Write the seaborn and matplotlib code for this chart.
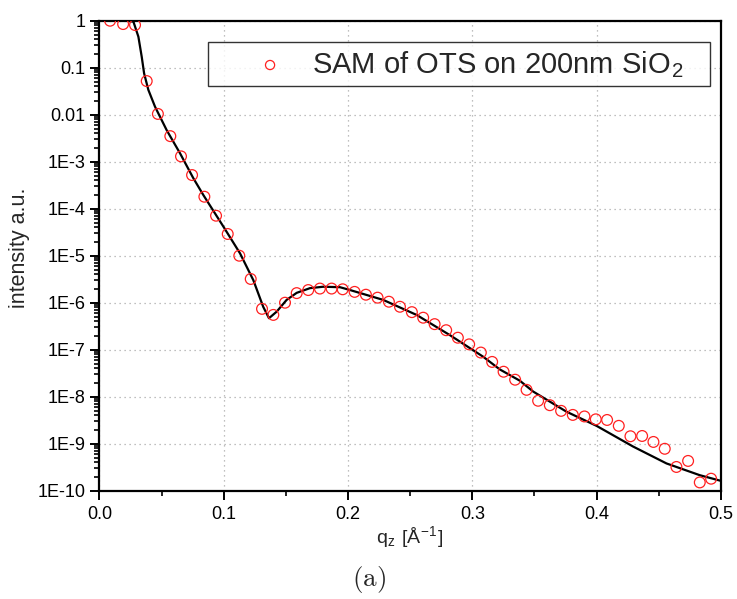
import matplotlib
matplotlib.use("Agg")
import matplotlib.pyplot as plt
import seaborn as sns
import numpy as np
import pandas as pd
from matplotlib.ticker import LogLocator, NullFormatter, MultipleLocator

# ---- data ----
q_data = [0.0085, 0.019, 0.0286, 0.038, 0.047, 0.057, 0.0656, 0.0745, 0.0844, 0.0938,
          0.1032, 0.1125, 0.1217, 0.1308, 0.1399, 0.1493, 0.1587, 0.168, 0.1774, 0.1868,
          0.1957, 0.2053, 0.2144, 0.2238, 0.2329, 0.2418, 0.2514, 0.2605, 0.2697, 0.279,
          0.2884, 0.2975, 0.3069, 0.316, 0.3252, 0.3345, 0.3437, 0.353, 0.3624, 0.3715,
          0.3809, 0.3903, 0.3994, 0.4085, 0.4179, 0.4273, 0.4367, 0.4458, 0.4549, 0.4643,
          0.4737, 0.4831, 0.4922]
i_data = [1.0, 0.85, 0.81, 0.052, 0.0104, 3.5e-3, 1.3e-3, 5.2e-4, 1.8e-4, 7.1e-5,
          2.9e-5, 1.0e-5, 3.2e-6, 7.4e-7, 5.5e-7, 1.0e-6, 1.6e-6, 1.86e-6, 2.0e-6, 2.0e-6,
          1.93e-6, 1.7e-6, 1.48e-6, 1.28e-6, 1.05e-6, 8.2e-7, 6.3e-7, 4.8e-7, 3.5e-7, 2.6e-7,
          1.8e-7, 1.3e-7, 8.7e-8, 5.5e-8, 3.4e-8, 2.3e-8, 1.4e-8, 8.2e-9, 6.6e-9, 5.0e-9,
          4.1e-9, 3.8e-9, 3.3e-9, 3.2e-9, 2.4e-9, 1.44e-9, 1.46e-9, 1.09e-9, 7.8e-10, 3.2e-10,
          4.3e-10, 1.5e-10, 1.8e-10]

q_fit = [0.0, 0.0166, 0.023, 0.0273, 0.0313, 0.034, 0.0359, 0.0393, 0.0447, 0.0541,
         0.0648, 0.0755, 0.0836, 0.0997, 0.1131, 0.1238, 0.1318, 0.1364, 0.1426, 0.1506,
         0.1587, 0.1694, 0.1801, 0.1935, 0.2016, 0.2283, 0.2552, 0.282, 0.3088, 0.3222,
         0.3383, 0.349, 0.3759, 0.40, 0.4294, 0.4563, 0.4831, 0.50]
logi_fit = [0.0, 0.0, -0.005, -0.02, -0.34, -0.77, -1.12, -1.47, -1.83, -2.33,
            -2.82, -3.35, -3.71, -4.38, -4.95, -5.52, -6.09, -6.33, -6.19, -5.94,
            -5.79, -5.69, -5.66, -5.67, -5.73, -5.94, -6.26, -6.69, -7.15, -7.42,
            -7.66, -7.89, -8.32, -8.62, -9.06, -9.42, -9.67, -9.79]
i_fit = [10 ** v for v in logi_fit]

y_ticks = [1, 0.1, 0.01, 1e-3, 1e-4, 1e-5, 1e-6, 1e-7, 1e-8, 1e-9, 1e-10]
y_ticklabels = ["1", "0.1", "0.01", "1E-3", "1E-4", "1E-5", "1E-6", "1E-7", "1E-8", "1E-9", "1E-10"]
x_ticks = [0.0, 0.1, 0.2, 0.3, 0.4, 0.5]
x_ticklabels = ["0.0", "0.1", "0.2", "0.3", "0.4", "0.5"]

series_label = r"SAM of OTS on 200nm SiO$_\mathregular{2}$"

df_data = pd.DataFrame({"q": q_data, "I": i_data})
df_fit = pd.DataFrame({"q": q_fit, "I": i_fit})

sns.set_style("white")
plt.rcParams["font.family"] = ["Liberation Sans", "DejaVu Sans"]
plt.rcParams["mathtext.fontset"] = "cm"
plt.rcParams.update({
    "xtick.bottom": True, "ytick.left": True,
    "xtick.top": False, "ytick.right": False,
    "xtick.direction": "out", "ytick.direction": "out",
    "xtick.major.size": 6.5, "ytick.major.size": 6.5,
    "xtick.minor.size": 3.5, "ytick.minor.size": 3.5,
    "xtick.major.width": 1.4, "ytick.major.width": 1.4,
    "xtick.minor.width": 1.2, "ytick.minor.width": 1.2,
    "xtick.color": "black", "ytick.color": "black",
})

fig = plt.figure(figsize=(7.37, 5.99), dpi=100)
ax = fig.add_axes([0.135, 0.1808, 0.843, 0.7846])

sns.lineplot(data=df_fit, x="q", y="I", ax=ax, color="black", linewidth=1.6,
             estimator=None, sort=False, legend=False, zorder=3)
sns.scatterplot(data=df_data, x="q", y="I", ax=ax, marker="o", s=60,
                facecolors="none", edgecolor="#ff2020", linewidth=0.9,
                label=series_label, zorder=4)

ax.set_yscale("log")
ax.set_xlim(0, 0.5)
ax.set_ylim(1e-10, 1)
ax.set_yticks(y_ticks)
ax.set_yticklabels(y_ticklabels)
ax.yaxis.set_minor_locator(LogLocator(base=10, subs=np.arange(2, 10), numticks=100))
ax.yaxis.set_minor_formatter(NullFormatter())
ax.set_xticks(x_ticks)
ax.set_xticklabels(x_ticklabels)
ax.xaxis.set_minor_locator(MultipleLocator(0.05))

ax.grid(True, which="major", linestyle=(0, (1, 3)), color="#aaaaaa", linewidth=0.9)
ax.set_axisbelow(True)

for s in ax.spines.values():
    s.set_linewidth(1.6)
    s.set_color("black")

ax.tick_params(axis="both", which="major", direction="out", length=6.5, width=1.4,
               labelsize=13, pad=3.5, left=True, bottom=True, top=False, right=False,
               color="black", labelcolor="black")
ax.tick_params(axis="both", which="minor", direction="out", length=3.5, width=1.2,
               left=True, bottom=True, top=False, right=False, color="black")
ax.tick_params(axis="x", which="major", pad=4.5)

ax.set_xlabel(r"q$_\mathregular{z}$ [Å$^\mathregular{-1}$]", fontsize=14, labelpad=1)
ax.set_ylabel("intensity a.u.", fontsize=15.5)
ax.yaxis.set_label_coords(-0.112, 0.516)

leg = ax.legend(loc="lower left", bbox_to_anchor=(0.175, 0.861, 0.808, 0.105),
                mode="expand", borderaxespad=0, fontsize=21, frameon=True,
                fancybox=False, borderpad=0.22, handlelength=3.8,
                handletextpad=-0.45, markerscale=0.85)
leg.get_frame().set_edgecolor("black")
leg.get_frame().set_linewidth(1.0)

fig.text(0.501, 0.033, r"$\mathrm{(a)}$", ha="center", va="center", fontsize=19.5)

fig.savefig("out.png", dpi=100)
